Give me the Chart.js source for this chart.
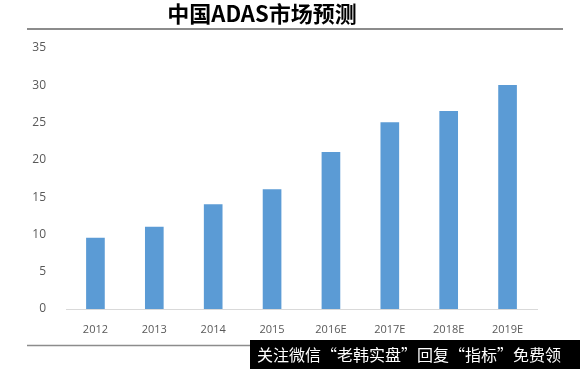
<!DOCTYPE html>
<html>
<head>
<meta charset="utf-8">
<script src="https://cdn.jsdelivr.net/npm/chart.js@4.4.1/dist/chart.umd.min.js"></script>
<style>
  html, body { margin: 0; padding: 0; background: #fff; }
  #wrap { position: relative; width: 580px; height: 369px; }
</style>
</head>
<body>
<div id="wrap"><canvas id="chart" width="580" height="369"></canvas></div>
<script>
const years = ['2012', '2013', '2014', '2015', '2016E', '2017E', '2018E', '2019E'];
const marketSize = [9.5, 11, 14, 16, 21, 25, 26.5, 30];
const titleText = '中国ADAS市场预测';
const noteText = '关注微信“老韩实盘”回复“指标”免费领';

// title, the two grey rules and the watermark box
const decor = {
    id: 'decor',
    afterDraw(chart) {
        const ctx = chart.ctx;
        ctx.save();
        ctx.fillStyle = '#000';
        ctx.font = 'bold 22px "Noto Sans CJK SC", sans-serif';
        ctx.textAlign = 'center';
        ctx.textBaseline = 'middle';
        ctx.fillText(titleText, 262, 14);

        ctx.strokeStyle = '#8c8c8c';
        ctx.lineWidth = 2;
        ctx.beginPath();
        ctx.moveTo(27, 29); ctx.lineTo(563, 29);
        ctx.stroke();
        ctx.lineWidth = 1.5;
        ctx.beginPath();
        ctx.moveTo(27, 345.5); ctx.lineTo(260, 345.5);
        ctx.stroke();

        ctx.fillStyle = '#000';
        ctx.fillRect(250, 340, 330, 29);
        ctx.fillStyle = '#fff';
        ctx.font = '16px "Noto Sans CJK SC", sans-serif';
        ctx.textAlign = 'left';
        ctx.fillText(noteText, 257, 355);
        ctx.restore();
    }
};

new Chart(document.getElementById('chart'), {
    type: 'bar',
    data: {
        labels: years,
        datasets: [{
            data: marketSize,
            backgroundColor: '#5b9bd5',
            barThickness: 18
        }]
    },
    options: {
        responsive: false,
        animation: false,
        layout: { padding: { top: 48, right: 43, bottom: 30, left: 0 } },
        plugins: { legend: { display: false }, tooltip: { enabled: false } },
        scales: {
            x: {
                grid: { display: false },
                border: { color: '#d9d9d9', width: 1 },
                ticks: { color: '#595959', font: { family: '"Open Sans"', size: 11 }, padding: 6 },
                afterFit(scale) { scale.height = 30; }
            },
            y: {
                min: 0,
                max: 35,
                ticks: { stepSize: 5, color: '#595959', font: { family: '"Open Sans"', size: 12 }, padding: 12 },
                grid: { display: false },
                border: { display: false },
                afterFit(scale) { scale.width = 66; }
            }
        }
    },
    plugins: [decor]
});
</script>
</body>
</html>
